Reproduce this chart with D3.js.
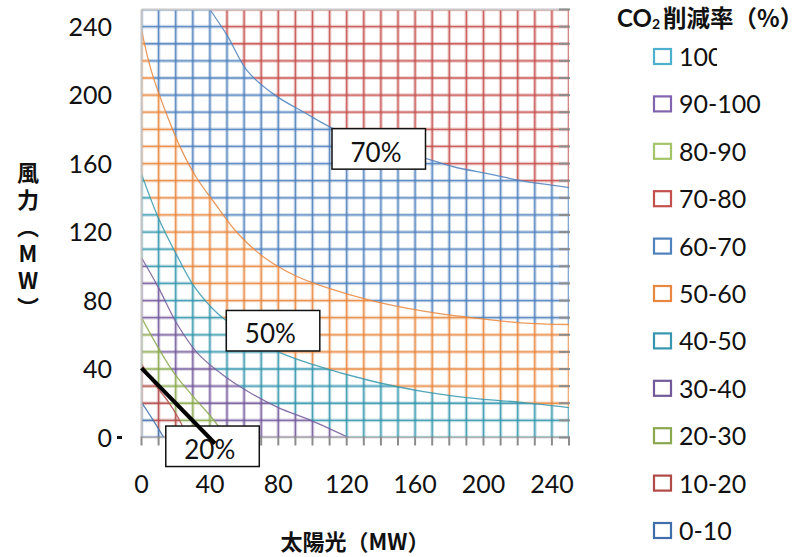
<!DOCTYPE html>
<html>
<head>
<meta charset="utf-8">
<script src="https://cdn.jsdelivr.net/npm/d3@7"></script>
<style>
  body { margin: 0; background: #fff; }
  svg { display: block; }
</style>
</head>
<body>
<div id="chart"></div>
<script>
// axis values
var solarTicks = [0, 40, 80, 120, 160, 200, 240];
var windTicks = [0, 40, 80, 120, 160, 200, 240];
var gridValues = [0, 10, 20, 30, 40, 50, 60, 70, 80, 90, 100, 110, 120, 130, 140, 150, 160, 170, 180, 190, 200, 210, 220, 230, 240, 250];

// CO2 reduction bands (legend lists them top-down)
var bandNames = ["0-10", "10-20", "20-30", "30-40", "40-50", "50-60", "60-70", "70-80", "80-90", "90-100", "100"];
var bandColors = ["#3F6EAA", "#B04A46", "#8AA84F", "#73599A", "#3596AD", "#E8873F", "#4F81BD", "#C4504D", "#A3C468", "#8264AE", "#4DB0CD"];

// contour lines: [solar MW, wind MW]
var contour10 = [[0, 20.5], [5.8, 11.7], [13, 0]];
var contour20 = [[0, 43], [7.8, 31], [15.6, 21], [21.4, 11.7], [27, 0]];
var contour30 = [[0, 70], [9.7, 52.6], [19.5, 37], [31, 23], [41, 11.7], [50, 0]];
var contour40 = [[0, 105], [9.7, 88], [21, 66], [33, 49], [47, 37], [62, 27], [80, 17.5], [99, 10], [121, 0]];
var contour50 = [[0, 154], [9.7, 128.7], [21.4, 105], [31, 88], [45, 72], [62, 60], [80, 50], [99, 43], [134.5, 33], [164, 27], [193, 23], [222, 20.5], [250, 17.5]];
var contour60 = [[0, 238], [5.8, 214], [14.6, 189], [23.4, 168], [32, 152], [42, 138], [56.5, 119], [72, 105], [90, 94.5], [107, 88], [134.5, 80], [164, 74], [193, 70], [222, 67], [250, 66]];
var contour70 = [[40, 250], [50, 235], [62, 214], [78, 200], [95, 190], [111, 181], [135, 171], [166, 163], [183, 158], [203, 154], [222, 150], [250, 146]];
var contours = [contour10, contour20, contour30, contour40, contour50, contour60, contour70];

// text boxes on the chart
var labelText = ["70%", "50%", "20%"];
var labelAt = [[111.4, 180.4], [49.6, 74.2], [14.2, 6.7]];
var pointerLine = [[0, 40.5], [43, -3.5]];

var width = 805, height = 557;

var svg = d3.select('#chart')
    .append('svg')
        .attr('width', width)
        .attr('height', height);

var x = d3.scaleLinear().domain([0, 250]).range([141.5, 569]);
var y = d3.scaleLinear().domain([0, 250]).range([437.5, 9.5]);

var defs = svg.append('defs');

var curve = d3.line()
    .x(function(d) { return x(d[0]); })
    .y(function(d) { return y(d[1]); })
    .curve(d3.curveCatmullRom.alpha(0.5));

/* region above/right of a contour line */
var aboveRegion = function(pts) {
    var p = curve(pts);
    var first = pts[0], last = pts[pts.length - 1];
    if (last[1] === 0) p += 'L' + x(250) + ',' + y(0);
    p += 'L' + x(250) + ',' + y(250);
    if (first[0] === 0) p += 'L' + x(0) + ',' + y(250);
    return p + 'Z';
};

var fullRect = 'M' + x(0) + ',' + y(0) + 'L' + x(250) + ',' + y(0) + 'L' + x(250) + ',' + y(250) + 'L' + x(0) + ',' + y(250) + 'Z';

// one clip per band, built from the contour pair around it
for (var i = 0; i <= contours.length; i++) {
    var lower = (i === 0) ? fullRect : aboveRegion(contours[i - 1]);
    var upper = (i === contours.length) ? '' : aboveRegion(contours[i]);
    defs.append('clipPath')
        .attr('id', 'band' + i)
        .append('path')
            .attr('d', lower + upper)
            .attr('clip-rule', 'evenodd');
}

var plot = svg.append('g');

/* grid wireframe coloured per band */
for (var b = 0; b <= contours.length; b++) {
    var g = plot.append('g').attr('clip-path', 'url(#band' + b + ')');
    [[3.6, 0.3], [1.3, 0.85]].forEach(function(st) {
        g.selectAll(null)
            .data(gridValues)
            .enter().append('line')
                .attr('x1', function(d) { return x(d); })
                .attr('x2', function(d) { return x(d); })
                .attr('y1', y(0))
                .attr('y2', y(250))
                .attr('stroke', bandColors[b])
                .attr('stroke-width', st[0])
                .attr('stroke-opacity', st[1]);
        g.selectAll(null)
            .data(gridValues)
            .enter().append('line')
                .attr('y1', function(d) { return y(d); })
                .attr('y2', function(d) { return y(d); })
                .attr('x1', x(0))
                .attr('x2', x(250))
                .attr('stroke', bandColors[b])
                .attr('stroke-width', st[0])
                .attr('stroke-opacity', st[1]);
    });
}

/* contour boundaries */
plot.selectAll('path.contour')
    .data(contours)
    .enter().append('path')
        .attr('class', 'contour')
        .attr('d', curve)
        .attr('fill', 'none')
        .attr('stroke', function(d, i) { return bandColors[i]; })
        .attr('stroke-width', 1.3)
        .attr('stroke-opacity', 0.85);

/* walls: left + top gray, floor gray */
svg.append('line')
    .attr('x1', x(0)).attr('x2', x(0)).attr('y1', y(0)).attr('y2', y(250))
    .attr('stroke', '#c4c4c4').attr('stroke-width', 2);
svg.append('line')
    .attr('x1', x(0)).attr('x2', x(250)).attr('y1', y(250)).attr('y2', y(250))
    .attr('stroke', '#c8c8c8').attr('stroke-width', 2);
svg.append('line')
    .attr('x1', x(0)).attr('x2', x(250)).attr('y1', y(0)).attr('y2', y(0))
    .attr('stroke', '#b0b0b0').attr('stroke-width', 1.5);

// tick marks (right side inward, bottom downward)
svg.selectAll('line.rtick')
    .data(gridValues)
    .enter().append('line')
        .attr('class', 'rtick')
        .attr('x1', x(250) - 10).attr('x2', x(250) + 1)
        .attr('y1', function(d) { return y(d); })
        .attr('y2', function(d) { return y(d); })
        .attr('stroke', '#8c8c8c').attr('stroke-width', 2);
svg.selectAll('line.btick')
    .data(gridValues)
    .enter().append('line')
        .attr('class', 'btick')
        .attr('x1', function(d) { return x(d); })
        .attr('x2', function(d) { return x(d); })
        .attr('y1', y(0) - 1).attr('y2', y(0) + 8)
        .attr('stroke', '#8c8c8c').attr('stroke-width', 2);

var numFont = 'Lato, "Open Sans", sans-serif';

/* tick labels */
svg.selectAll('text.ylab')
    .data(windTicks)
    .enter().append('text')
        .attr('class', 'ylab')
        .attr('x', 112)
        .attr('y', function(d) { return y(d) + 9; })
        .attr('text-anchor', 'end')
        .attr('font-family', numFont)
        .attr('font-size', 25)
        .attr('fill', '#111')
        .text(function(d) { return d; });
svg.append('rect')
    .attr('x', 117).attr('y', y(0) - 1.5).attr('width', 5).attr('height', 3)
    .attr('fill', '#111');

svg.selectAll('text.xlab')
    .data(solarTicks)
    .enter().append('text')
        .attr('class', 'xlab')
        .attr('x', function(d) { return x(d); })
        .attr('y', 493)
        .attr('text-anchor', 'middle')
        .attr('font-family', numFont)
        .attr('font-size', 25)
        .attr('fill', '#111')
        .text(function(d) { return d; });

/* annotation boxes */
labelText.forEach(function(t, i) {
    var bx = x(labelAt[i][0]), by = y(labelAt[i][1]);
    svg.append('rect')
        .attr('x', bx).attr('y', by)
        .attr('width', 93.5).attr('height', 40.5)
        .attr('fill', '#fff')
        .attr('stroke', '#111')
        .attr('stroke-width', 1.5);
    svg.append('text')
        .attr('x', bx + 44)
        .attr('y', by + 33)
        .attr('text-anchor', 'middle')
        .attr('font-family', numFont)
        .attr('font-size', 26)
        .attr('fill', '#111')
        .text(t);
});

svg.append('line')
    .attr('x1', x(pointerLine[0][0])).attr('y1', y(pointerLine[0][1]))
    .attr('x2', x(pointerLine[1][0])).attr('y2', y(pointerLine[1][1]))
    .attr('stroke', '#000')
    .attr('stroke-width', 4);

/* axis titles */
var cjk = '"Noto Sans CJK JP", "Noto Sans CJK SC", sans-serif';
svg.append('text')
    .attr('x', 355)
    .attr('y', 550)
    .attr('text-anchor', 'middle')
    .attr('font-family', cjk)
    .attr('font-weight', 'bold')
    .attr('font-size', 22)
    .attr('fill', '#111')
    .text('太陽光（MW）');

// vertical title, one text element in vertical writing mode
svg.append('text')
    .attr('x', 28)
    .attr('y', 162)
    .attr('font-family', cjk)
    .attr('font-weight', 'bold')
    .attr('font-size', 22)
    .attr('fill', '#111')
    .style('writing-mode', 'vertical-rl')
    .style('text-orientation', 'upright')
    .style('letter-spacing', '5px')
    .text('風力（MW）');

/* legend */
var legTitle = svg.append('text')
    .attr('x', 617)
    .attr('y', 27)
    .attr('font-weight', 'bold')
    .attr('fill', '#111');
legTitle.append('tspan').attr('font-family', numFont).attr('font-size', 24).text('CO');
legTitle.append('tspan').attr('font-family', numFont).attr('font-size', 14).attr('dy', 2).text('2');
legTitle.append('tspan').attr('font-family', cjk).attr('font-size', 23.5).attr('dy', -2).attr('dx', 3).text('削減率（%）');

// the "100" entry is cut short in the original
defs.append('clipPath').attr('id', 'legclip')
    .append('rect').attr('x', 670).attr('y', -25).attr('width', 47).attr('height', 45);

var legendOrder = bandNames.slice().reverse();
var legendColors = bandColors.slice().reverse();
var leg = svg.selectAll('g.leg')
    .data(legendOrder)
    .enter().append('g')
        .attr('class', 'leg')
        .attr('transform', function(d, i) { return 'translate(0,' + (57 + i * 47.4) + ')'; });
leg.append('rect')
    .attr('x', 654).attr('y', -8)
    .attr('width', 17).attr('height', 15)
    .attr('fill', '#fff')
    .attr('stroke', function(d, i) { return legendColors[i]; })
    .attr('stroke-width', 2.2);
leg.append('text')
    .attr('x', 679)
    .attr('y', 9)
    .attr('font-family', numFont)
    .attr('font-size', 25)
    .attr('fill', '#111')
    .attr('clip-path', function(d, i) { return i === 0 ? 'url(#legclip)' : null; })
    .text(function(d) { return d; });
</script>
</body>
</html>
